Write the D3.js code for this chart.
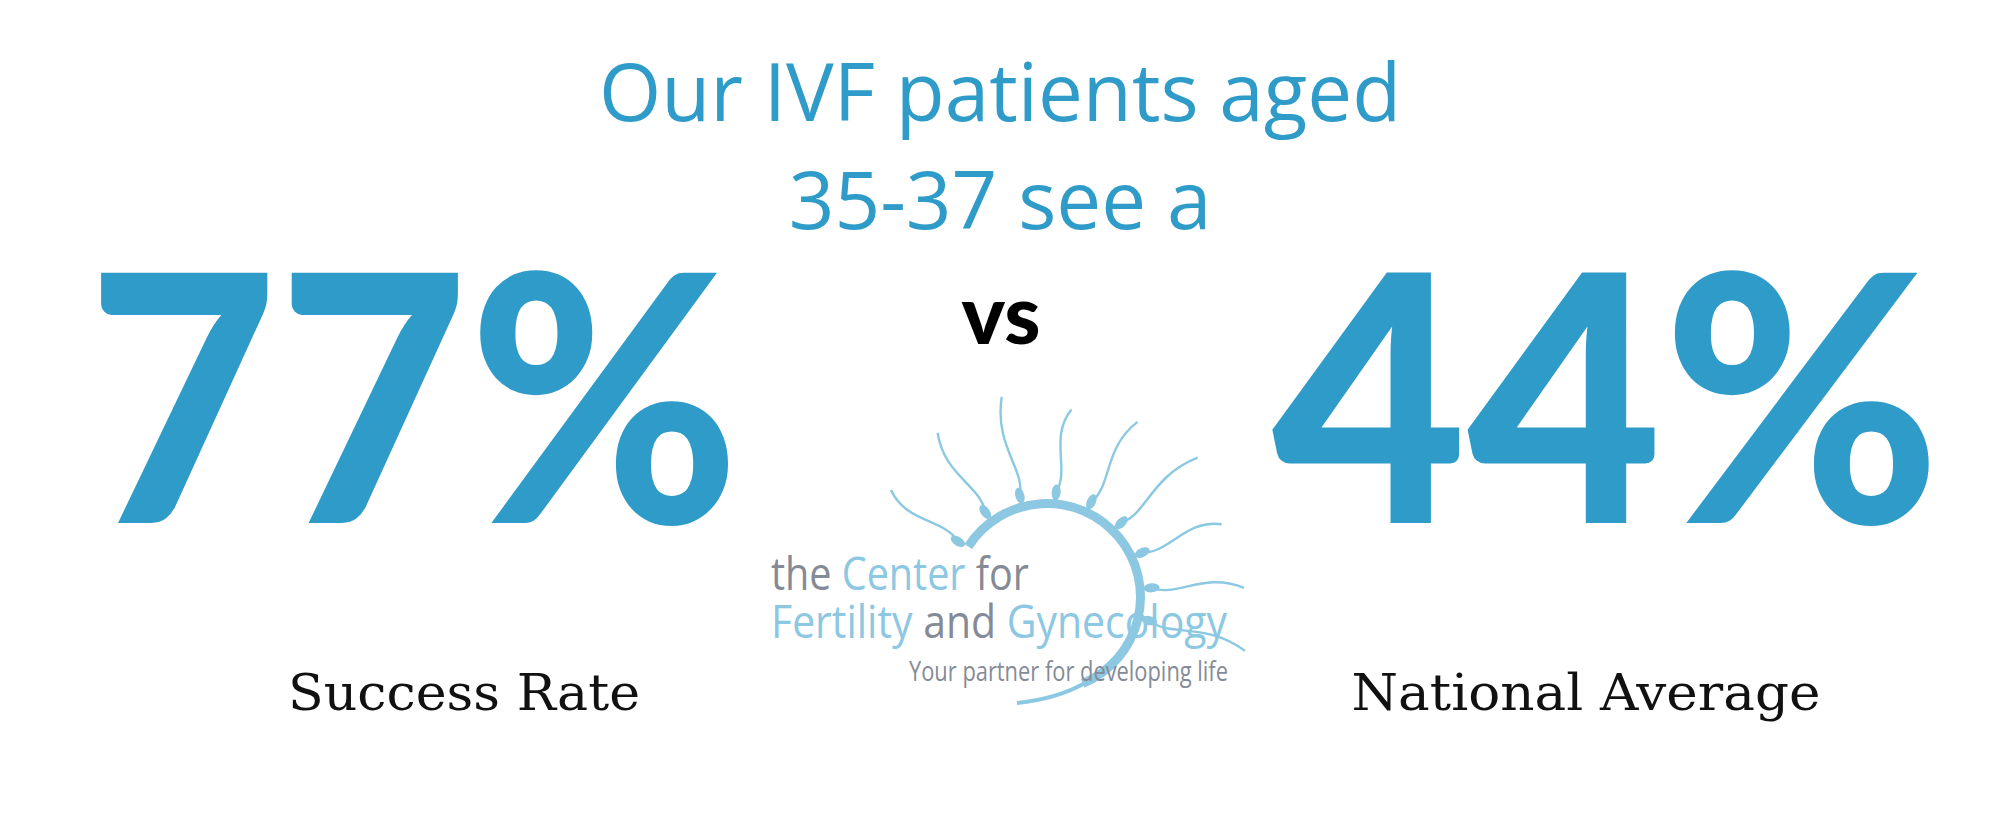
<!DOCTYPE html>
<html><head><meta charset="utf-8">
<script src="https://cdn.jsdelivr.net/npm/d3@7"></script>
<style>body{margin:0;background:#fff}</style>
</head><body>
<svg id="c" width="2000" height="825"></svg>
<script>
const titleLines = ["Our IVF patients aged", "35-37 see a"];
const categories = ["Success Rate", "National Average"];
const values = [77, 44];
const logoLines = ["the Center for", "Fertility and Gynecology", "Your partner for developing life"];
// tail angles (deg from up, clockwise) for the logo sperm
const tailAngles = [-58, -36, -15, 5, 25, 45, 65, 85, 103];

const blue = "#2e9bc8", light = "#8cc8e2", grey = "#858b96";
const svg = d3.select("#c");

svg.selectAll("text.title").data(titleLines).join("text")
  .attr("x", 1000).attr("y", (d, i) => 121 + i * 108)
  .attr("text-anchor", "middle").attr("fill", blue)
  .attr("font-family", "Open Sans").attr("font-size", 80)
  .text(d => d);

const x = d3.scaleOrdinal().domain(categories).range([464, 1586]);
const big = [[87, 653], [1272, 669]];

svg.selectAll("text.big").data(values).join("text")
  .attr("x", (d, i) => big[i][0]).attr("y", 523)
  .attr("textLength", (d, i) => big[i][1]).attr("lengthAdjust", "spacingAndGlyphs")
  .attr("fill", blue).attr("font-family", "Lato").attr("font-weight", 900)
  .attr("font-size", 345).text(d => d + "%");

svg.append("text").attr("x", 1001).attr("y", 344).attr("text-anchor", "middle")
  .attr("font-family", "Lato").attr("font-weight", 900).attr("font-size", 82)
  .attr("fill", "#000").text("vs");

const lw = [352, 469];
svg.selectAll("text.cat").data(categories).join("text")
  .attr("x", d => x(d)).attr("y", 710)
  .attr("text-anchor", "middle")
  .attr("textLength", (d, i) => lw[i]).attr("lengthAdjust", "spacingAndGlyphs")
  .attr("font-family", "DejaVu Serif").attr("font-size", 50).attr("fill", "#111")
  .text(d => d);

// logo
const g = svg.append("g");
const cx = 1047, cy = 597, r = 94;
g.append("path")
  .attr("d", d3.arc()({innerRadius: r - 5, outerRadius: r + 4, startAngle: -1.0, endAngle: 2.75}))
  .attr("transform", `translate(${cx},${cy})`).attr("fill", light);
g.append("path")
  .attr("d", `M${cx + 40},${cy + 85} Q${cx + 10},${cy + 102} ${cx - 30},${cy + 106}`)
  .attr("stroke", light).attr("stroke-width", 4).attr("fill", "none");
tailAngles.forEach((a, i) => {
  const t = a * Math.PI / 180, s = Math.sin(t), c = -Math.cos(t);
  const px = -c, py = s;
  const p = k => [cx + s * (r + k), cy + c * (r + k)];
  const [hx, hy] = p(11);
  g.append("ellipse").attr("cx", hx).attr("cy", hy).attr("rx", 4.5).attr("ry", 8)
    .attr("transform", `rotate(${a},${hx},${hy})`).attr("fill", light);
  const len = 95 + (i % 3) * 8, w = 12;
  const a1 = p(35), a2 = p(65), e = p(len);
  g.append("path")
    .attr("d", `M${hx},${hy} C${a1[0] + px * w},${a1[1] + py * w} ${a2[0] - px * w},${a2[1] - py * w} ${e[0] + px * 8},${e[1] + py * 8}`)
    .attr("stroke", light).attr("stroke-width", 2.4).attr("fill", "none");
});
const l1 = g.append("text").attr("x", 771).attr("y", 590).attr("font-family", "Open Sans").attr("font-size", 46)
  .attr("textLength", 258).attr("lengthAdjust", "spacingAndGlyphs");
l1.append("tspan").attr("fill", grey).text("the ");
l1.append("tspan").attr("fill", light).text("Center ");
l1.append("tspan").attr("fill", grey).text("for");
const l2 = g.append("text").attr("x", 771).attr("y", 638).attr("font-family", "Open Sans").attr("font-size", 46)
  .attr("textLength", 456).attr("lengthAdjust", "spacingAndGlyphs");
l2.append("tspan").attr("fill", light).text("Fertility ");
l2.append("tspan").attr("fill", grey).text("and ");
l2.append("tspan").attr("fill", light).text("Gynecology");
g.append("text").attr("x", 909).attr("y", 681).attr("font-family", "Open Sans").attr("font-size", 28)
  .attr("textLength", 319).attr("lengthAdjust", "spacingAndGlyphs").attr("fill", grey).text(logoLines[2]);
</script>
</body></html>
